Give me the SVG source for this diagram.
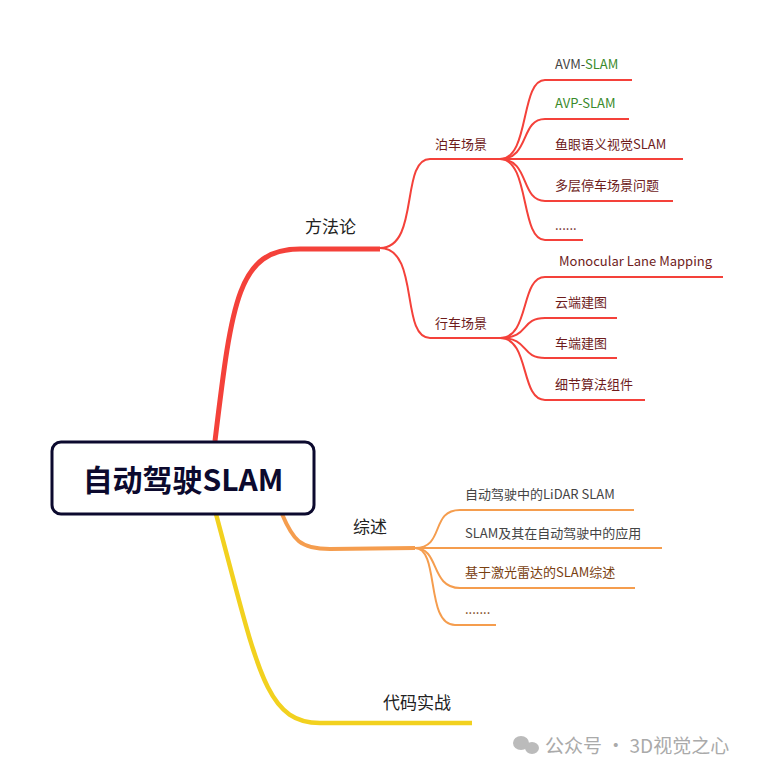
<svg xmlns="http://www.w3.org/2000/svg" width="773" height="777" viewBox="0 0 773 777">
<style>
text{font-family:"Noto Sans CJK SC","Noto Sans",sans-serif}
.r{fill:none;stroke:#f4413a;stroke-width:2}
.o{fill:none;stroke:#f59d4e;stroke-width:2}
.m{font-size:17px;fill:#222}
.c{font-size:13px;fill:#6e1c1c}
.g{font-size:13px;fill:#444}
</style>
<rect width="773" height="777" fill="#fff"/>
<g id="connectors">
<path d="M215,441 C232,300 238,249 300,249 L380,249" fill="none" stroke="#f4413a" stroke-width="5"/>
<path d="M380,249 L300,249" fill="none" stroke="#f4413a" stroke-width="2"/>
<path d="M282,514 C293,540 300,549 330,549 L415,548" fill="none" stroke="#f59d4e" stroke-width="4"/>
<path d="M216,514 C258,670 265,723 320,723 L472,723" fill="none" stroke="#f2d11f" stroke-width="4.5"/>
<path class="r" d="M380,248 C420,248 400,159 430,159 L500,159"/>
<path class="r" d="M380,248 C420,248 400,338 430,338 L500,338"/>
<path class="r" d="M500,159 C530,159 520,80 545,80 L632,80"/>
<path class="r" d="M500,159 C530,159 520,119 545,119 L629,119"/>
<path class="r" d="M500,159 L683,159"/>
<path class="r" d="M500,159 C530,159 520,201 545,201 L673,201"/>
<path class="r" d="M500,159 C530,159 520,240 545,240 L583,240"/>
<path class="r" d="M500,338 C530,338 520,277 545,277 L723,277"/>
<path class="r" d="M500,338 C530,338 520,318 545,318 L617,318"/>
<path class="r" d="M500,338 C530,338 520,358 545,358 L617,358"/>
<path class="r" d="M500,338 C530,338 520,400 545,400 L645,400"/>
<path class="o" d="M415,548 C445,548 430,510 460,510 L634,510"/>
<path class="o" d="M415,548 L662,548"/>
<path class="o" d="M415,548 C440,548 430,588 460,588 L635,588"/>
<path class="o" d="M415,548 C440,548 425,625 455,625 L496,625"/>
</g>
<g id="root">
<rect x="52" y="442" width="262" height="72" rx="9" fill="#fff" stroke="#0c0a2e" stroke-width="3"/>
<text x="183" y="491" text-anchor="middle" font-size="30" font-weight="bold" fill="#0c0a2e">自动驾驶SLAM</text>
</g>
<g id="n-method"><text x="305" y="233" class="m">方法论</text></g>
<g id="n-park"><text x="435" y="149" class="c">泊车场景</text></g>
<g id="n-drive"><text x="435" y="328" class="c">行车场景</text></g>
<g id="n-avm"><text x="555" y="69" class="g">AVM-<tspan fill="#3a8a2a">SLAM</tspan></text></g>
<g id="n-avp"><text x="555" y="108" class="g" style="fill:#3a8a2a">AVP-SLAM</text></g>
<g id="n-fish"><text x="555" y="149" class="c">鱼眼语义视觉SLAM</text></g>
<g id="n-multi"><text x="555" y="190" class="c">多层停车场景问题</text></g>
<g id="n-dots1"><text x="555" y="230" class="c">......</text></g>
<g id="n-mono"><text x="559" y="266" class="c">Monocular Lane Mapping</text></g>
<g id="n-cloud"><text x="555" y="307" class="c">云端建图</text></g>
<g id="n-car"><text x="555" y="348" class="c">车端建图</text></g>
<g id="n-detail"><text x="555" y="389" class="c">细节算法组件</text></g>
<g id="n-survey"><text x="353" y="533" class="m">综述</text></g>
<g id="n-lidar"><text x="465" y="499" class="g">自动驾驶中的LiDAR SLAM</text></g>
<g id="n-app"><text x="465" y="538" class="g">SLAM及其在自动驾驶中的应用</text></g>
<g id="n-laser"><text x="465" y="577" class="c" style="fill:#7a4010">基于激光雷达的SLAM综述</text></g>
<g id="n-dots2"><text x="465" y="614" class="g" style="fill:#7a4010">.......</text></g>
<g id="n-code"><text x="383" y="709" class="m">代码实战</text></g>
<g id="watermark">
<ellipse cx="521" cy="743" rx="8" ry="7" fill="#bbb"/><ellipse cx="532" cy="748" rx="7" ry="6" fill="#bbb"/>
<text x="545" y="753" font-size="19" fill="#aaa">公众号 · 3D视觉之心</text>
</g>
</svg>
